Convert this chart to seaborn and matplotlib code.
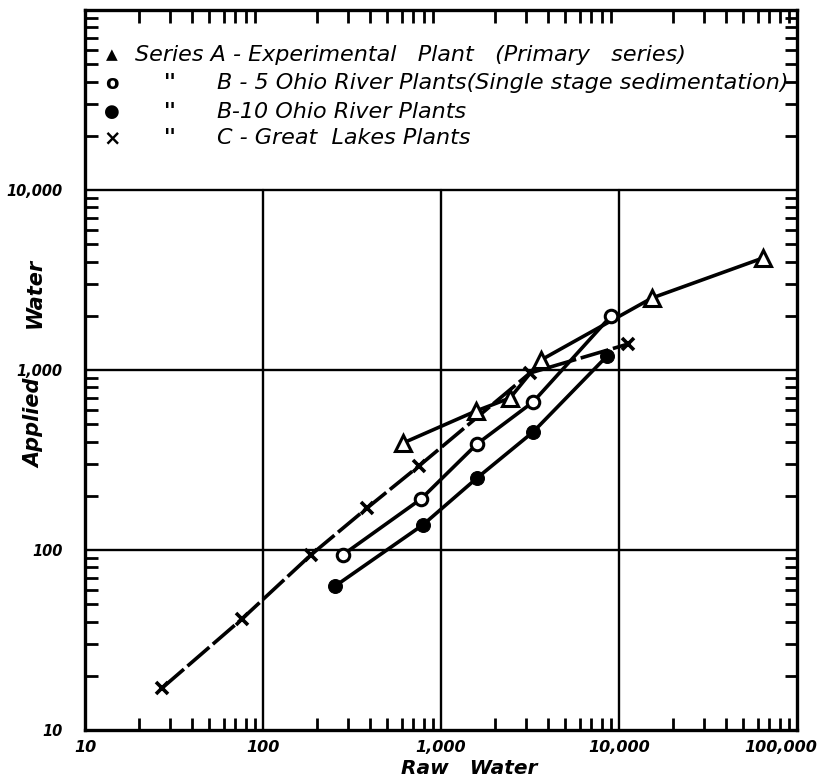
import matplotlib
matplotlib.use("Agg")
import matplotlib.pyplot as plt
import matplotlib.transforms as mtransforms
import seaborn as sns
import numpy as np

# ---- data ----
a_raw = [612, 1574, 2443, 3648, 15320, 64400]
a_applied = [393, 592, 699, 1137, 2512, 4190]

b5_raw = [281, 772, 1592, 3288, 9016]
b5_applied = [94, 192, 388, 664, 1995]

b10_raw = [254, 792, 1592, 3288, 8570]
b10_applied = [63, 138, 251, 452, 1196]

c_raw = [27.1, 76.2, 186, 384, 752, 3162, 11240]
c_applied = [17.1, 41.4, 94, 171, 293, 962, 1394]

x_ticks = [10, 100, 1000, 10000, 100000]
x_ticklabels = ["10", "100", "1,000", "10,000", "100,000"]
y_ticks = [10, 100, 1000, 10000]
y_ticklabels = ["10", "100", "1,000", "10,000"]

legend_symbols = ["\u25B2", "o", "\u25CF", "x"]
legend_ditto = ["", "''", "''", "''"]
legend_texts = ["Series A - Experimental   Plant   (Primary   series)",
                "B - 5 Ohio River Plants(Single stage sedimentation)",
                "B-10 Ohio River Plants",
                "C - Great  Lakes Plants"]

sns.set_theme(style="white")
plt.rcParams['font.family'] = ['DejaVu Sans']
plt.rcParams['text.color'] = 'black'

fig = plt.figure(figsize=(8.19, 7.83), dpi=100)
ax = fig.add_axes([85/819, 1-730/783, 712/819, 720/783])

ax.set_xscale("log")
ax.set_yscale("log")
ax.set_xlim(10, 100000)
ax.set_ylim(10, 100000)

lw = 2.6
# grid: verticals stop at 10,000 on y
for xv in [100, 1000, 10000]:
    ax.axvline(xv, ymin=0, ymax=0.75, color="black", lw=1.7, zorder=1)
for yv in [100, 1000, 10000]:
    ax.axhline(yv, color="black", lw=1.7, zorder=1)

sns.lineplot(x=c_raw, y=c_applied, ax=ax, color="black", lw=lw, sort=False,
             estimator=None, marker="x", markersize=8, markeredgewidth=2.6,
             markeredgecolor="black", zorder=3)
ax.lines[-1].set_dashes([8, 1.3])
sns.lineplot(x=a_raw, y=a_applied, ax=ax, color="black", lw=lw, sort=False,
             estimator=None, marker="^", markersize=11, markerfacecolor="white",
             markeredgecolor="black", markeredgewidth=2.2, zorder=4)
sns.lineplot(x=b5_raw, y=b5_applied, ax=ax, color="black", lw=lw, sort=False,
             estimator=None, marker="o", markersize=9, markerfacecolor="white",
             markeredgecolor="black", markeredgewidth=2.2, zorder=4)
sns.lineplot(x=b10_raw, y=b10_applied, ax=ax, color="black", lw=lw, sort=False,
             estimator=None, marker="o", markersize=10, markerfacecolor="black",
             markeredgecolor="black", zorder=4)

for s in ax.spines.values():
    s.set_visible(True)
    s.set_color("black")
    s.set_linewidth(2.4)

ax.set_xticks(x_ticks)
ax.set_xticklabels(x_ticklabels)
ax.set_yticks(y_ticks)
ax.set_yticklabels(y_ticklabels)
ax.xaxis.set_minor_locator(matplotlib.ticker.LogLocator(base=10, subs=np.arange(2, 10)))
ax.yaxis.set_minor_locator(matplotlib.ticker.LogLocator(base=10, subs=np.arange(2, 10)))
ax.xaxis.set_minor_formatter(matplotlib.ticker.NullFormatter())
ax.yaxis.set_minor_formatter(matplotlib.ticker.NullFormatter())
ax.tick_params(which="both", direction="in", top=True, right=True, bottom=True, left=True,
               colors="black", labelcolor="black")
ax.tick_params(axis="x", which="major", length=0, pad=7)
ax.tick_params(axis="y", which="major", length=0, pad=16)
ax.tick_params(which="minor", length=9, width=2.0)
for lab in ax.get_xticklabels():
    lab.set_fontstyle("italic")
    lab.set_fontweight("bold")
    lab.set_fontsize(11.5)
for lab in ax.get_yticklabels():
    lab.set_fontstyle("italic")
    lab.set_fontweight("bold")
    lab.set_fontsize(10.5)
last = ax.get_xticklabels()[-1]
last.set_transform(last.get_transform() +
                   mtransforms.ScaledTranslation(-16/100, 0, fig.dpi_scale_trans))

ax.set_xlabel("Raw   Water", fontsize=14.5, fontstyle="italic", fontweight="bold",
              color="black")
ax.xaxis.set_label_coords(0.54, -0.040)
ax.set_ylabel("")
# y-axis title, lettered as two words straddling the 1,000 label
ax.text(-0.071, 0.426, "Applied", transform=ax.transAxes, rotation=90, fontsize=15,
        fontstyle="italic", fontweight="bold", ha="center", va="center", color="black")
ax.text(-0.071, 0.607, "Water", transform=ax.transAxes, rotation=90, fontsize=15,
        fontstyle="italic", fontweight="bold", ha="center", va="center", color="black")

# legend text block
ys = [0.9375, 0.8986, 0.858, 0.822]
for i, yy in enumerate(ys):
    sym = legend_symbols[i]
    if sym == "x":
        ax.text(0.038, yy, "\u00D7", transform=ax.transAxes, fontsize=15, fontweight="bold",
                va="center", ha="center", color="black")
    elif sym == "o":
        ax.text(0.038, yy, "o", transform=ax.transAxes, fontsize=14, fontweight="bold",
                va="center", ha="center", color="black")
    else:
        ax.text(0.038, yy, sym, transform=ax.transAxes, fontsize=11 if i == 0 else 13,
                va="center", ha="center", color="black")
    if legend_ditto[i]:
        ax.text(0.118, yy, legend_ditto[i], transform=ax.transAxes, fontsize=15,
                fontstyle="italic", fontweight="bold", va="center", ha="center",
                color="black")
        ax.text(0.1854, yy, legend_texts[i], transform=ax.transAxes, fontsize=16,
                fontstyle="italic", va="center", ha="left", color="black")
    else:
        ax.text(0.0702, yy, legend_texts[i], transform=ax.transAxes, fontsize=16,
                fontstyle="italic", va="center", ha="left", color="black")

fig.savefig("out.png", dpi=100, facecolor="white")
